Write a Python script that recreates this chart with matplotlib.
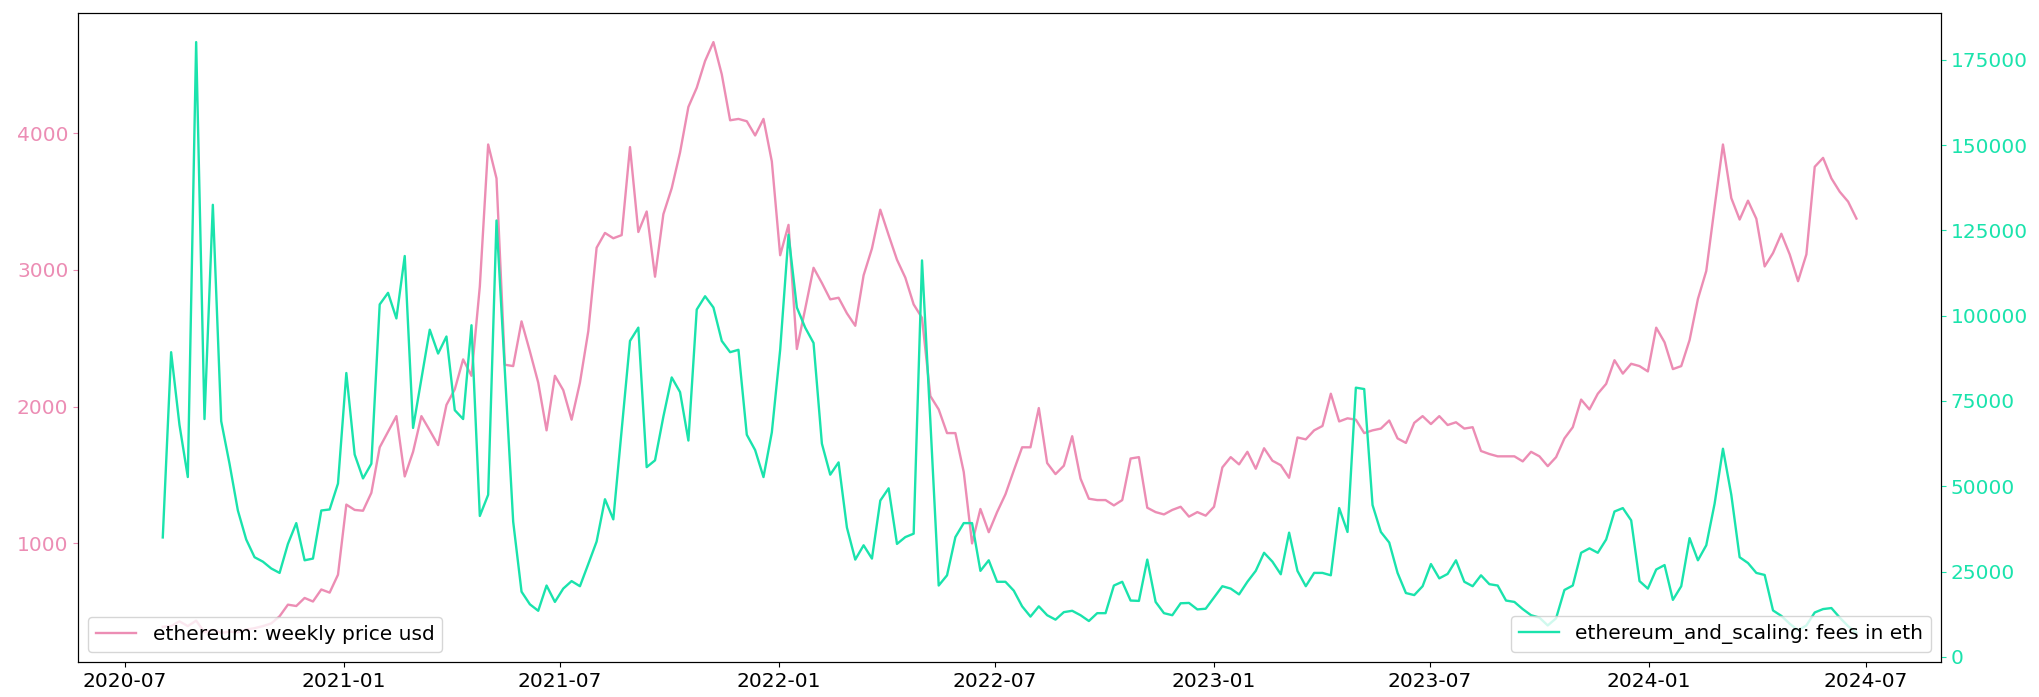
import matplotlib
matplotlib.use("Agg")
import matplotlib.pyplot as plt
import pandas as pd

# weekly samples, first week starting 2020-08-02
start_date = "2020-08-02"

eth_price_usd = [
    390, 395, 430, 395, 435, 350, 370, 345, 355, 350, 370, 380, 395, 415,
    467, 552, 542, 601, 575, 663, 640, 771, 1284, 1245, 1239, 1370, 1703, 1817,
    1931, 1490, 1670, 1931, 1827, 1719, 2013, 2127, 2346, 2226, 2879, 3918, 3670, 2307,
    2297, 2624, 2405, 2176, 1827, 2226, 2121, 1905, 2176, 2552, 3163, 3271, 3232, 3255,
    3899, 3278, 3428, 2951, 3408, 3598, 3860, 4193, 4333, 4529, 4667, 4431, 4095, 4105,
    4088, 3984, 4105, 3794, 3108, 3330, 2422, 2716, 3016, 2905, 2785, 2797, 2683, 2592,
    2961, 3157, 3441, 3255, 3075, 2944, 2748, 2650, 2078, 1980, 1807, 1807, 1523, 1000,
    1252, 1082, 1229, 1359, 1533, 1703, 1703, 1990, 1588, 1507, 1568, 1784, 1474, 1327,
    1317, 1317, 1278, 1317, 1621, 1631, 1261, 1229, 1212, 1245, 1268, 1196, 1229, 1203,
    1268, 1556, 1631, 1578, 1670, 1546, 1696, 1605, 1572, 1480, 1775, 1761, 1827, 1859,
    2095, 1892, 1915, 1905, 1807, 1827, 1840, 1899, 1768, 1735, 1882, 1931, 1873, 1931,
    1866, 1886, 1840, 1850, 1676, 1654, 1637, 1637, 1637, 1600, 1670, 1637, 1565, 1631,
    1768, 1850, 2052, 1980, 2095, 2167, 2340, 2242, 2314, 2297, 2258, 2578, 2471, 2275,
    2297, 2487, 2788, 2993, 3461, 3918, 3526, 3369, 3507, 3375, 3026, 3124, 3265, 3114,
    2918, 3114, 3755, 3820, 3670, 3572, 3500, 3376,
]

fees_in_eth = [
    35000, 89300, 68000, 52700, 180200, 69700, 132500, 69100, 56600, 42900, 34400, 29200,
    27900, 25900, 24600, 33100, 39200, 28300, 28800, 42900, 43200, 50800, 83200, 59300,
    52300, 56600, 103300, 106700, 99200, 117500, 67100, 81500, 95900, 88900, 93900, 72300,
    69700, 97200, 41300, 47500, 127900, 83500, 39600, 19100, 15400, 13500, 20900, 16100,
    20000, 22200, 20700, 27200, 33800, 46200, 40300, 66500, 92600, 96500, 55600, 57600,
    70400, 81900, 77600, 63400, 101800, 105700, 102400, 92600, 89300, 90000, 65100, 60600,
    52700, 65800, 90000, 123700, 102400, 96500, 92000, 62500, 53400, 57000, 37900, 28500,
    32700, 28800, 45800, 49400, 33100, 35100, 36100, 116200, 69100, 20900, 23900, 35100,
    39200, 39200, 25200, 28300, 22000, 22000, 19400, 14800, 11800, 14800, 12200, 10900,
    13100, 13500, 12200, 10500, 12800, 12800, 20900, 22000, 16500, 16400, 28500, 16100,
    12800, 12200, 15700, 15800, 13900, 14100, 17400, 20700, 20000, 18300, 22000, 25200,
    30500, 27900, 24200, 36400, 25200, 20700, 24600, 24600, 23900, 43600, 36600, 78900,
    78500, 44500, 36600, 33500, 24600, 18700, 18100, 20700, 27200, 23000, 24300, 28300,
    22000, 20700, 23900, 21300, 20900, 16500, 16100, 14000, 12200, 11500, 9200, 11300,
    19600, 20900, 30500, 31800, 30500, 34400, 42600, 43600, 40000, 22200, 20000, 25600,
    26900, 16700, 20700, 34800, 28300, 32700, 44900, 61000, 47500, 29200, 27500, 24600,
    24000, 13600, 12000, 9700, 7800, 9200, 13000, 14000, 14300, 11500, 9000, 7000,
]

weeks = pd.date_range(start_date, periods=len(eth_price_usd), freq="7D")

pink = "#ec8db4"
green = "#1ae3ac"

plt.rcParams["font.size"] = 14.5

fig, ax = plt.subplots(figsize=(20.39, 6.97), dpi=100)
fig.subplots_adjust(left=0.0383, right=0.952, top=0.982, bottom=0.0495)

ax.plot(weeks, eth_price_usd, color=pink, lw=1.7, label="ethereum: weekly price usd")
ax.tick_params(axis="y", colors=pink)
ax.legend(loc="lower left")

ax2 = ax.twinx()
ax2.plot(weeks, fees_in_eth, color=green, lw=1.7, label="ethereum_and_scaling: fees in eth")
ax2.tick_params(axis="y", colors=green)
ax2.legend(loc="lower right")

fig.savefig("out.png")
